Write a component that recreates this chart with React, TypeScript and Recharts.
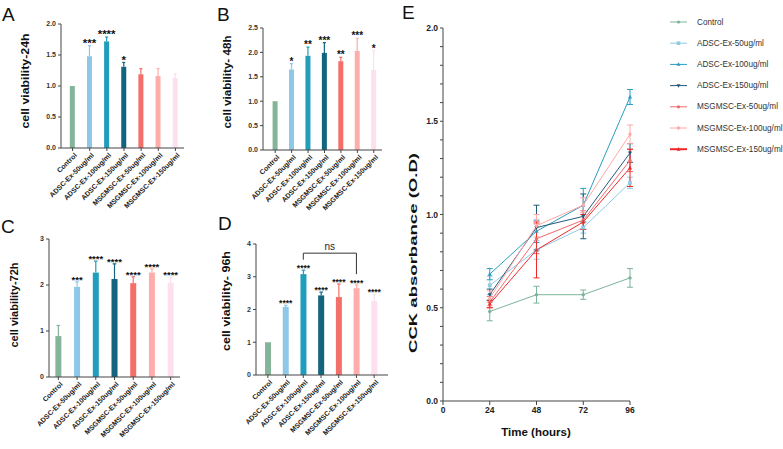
import React from 'react';
import { BarChart, Bar, XAxis, YAxis, LineChart, Line, ErrorBar, ReferenceLine } from 'recharts';

const FONT = '"Liberation Sans", Arial, sans-serif';

// ---------- data ----------
const groups = ['Control', 'ADSC-Ex-50ug/ml', 'ADSC-Ex-100ug/ml', 'ADSC-Ex-150ug/ml', 'MSGMSC-Ex-50ug/ml', 'MSGMSC-Ex-100ug/ml', 'MSGMSC-Ex-150ug/ml'];
const barColors = ['#84B59B', '#8EC8E8', '#219EBC', '#13647F', '#F46F6A', '#FFADAB', '#FCE0EE'];

const v24 = [1.0, 1.48, 1.72, 1.31, 1.19, 1.16, 1.13];
const e24 = [0, 0.17, 0.07, 0.07, 0.09, 0.12, 0.07];
const s24 = ['', '***', '****', '*', '', '', ''];

const v48 = [1.0, 1.65, 1.93, 1.99, 1.82, 2.03, 1.64];
const e48 = [0, 0.12, 0.18, 0.21, 0.08, 0.26, 0.4];
const s48 = ['', '*', '**', '***', '**', '***', '*'];

const v72 = [0.89, 1.96, 2.27, 2.13, 2.04, 2.27, 2.05];
const e72 = [0.23, 0.11, 0.25, 0.33, 0.14, 0.08, 0.12];
const s72 = ['', '***', '****', '****', '****', '****', '****'];

const v96 = [1.0, 2.08, 3.08, 2.43, 2.38, 2.65, 2.26];
const e96 = [0, 0.05, 0.12, 0.1, 0.4, 0.1, 0.2];
const s96 = ['', '****', '****', '****', '****', '****', '****'];

const times = [24, 48, 72, 96];
const seriesNames = ['Control', 'ADSC-Ex-50ug/ml', 'ADSC-Ex-100ug/ml', 'ADSC-Ex-150ug/ml', 'MSGMSC-Ex-50ug/ml', 'MSGMSC-Ex-100ug/ml', 'MSGMSC-Ex-150ug/ml'];
const lineColors = ['#7DB39A', '#8ECAE6', '#2A9CC0', '#225A7A', '#F06A6A', '#FFA8A8', '#EE2A2A'];
const ctrlOD = [0.48, 0.57, 0.57, 0.66];
const ctrlErr = [0.05, 0.045, 0.025, 0.05];
const adsc50OD = [0.62, 0.81, 0.93, 1.17];
const adsc50Err = [0.05, 0.05, 0.03, 0.03];
const adsc100OD = [0.68, 0.91, 1.05, 1.63];
const adsc100Err = [0.03, 0.06, 0.09, 0.04];
const adsc150OD = [0.57, 0.93, 0.99, 1.33];
const adsc150Err = [0.03, 0.12, 0.12, 0.05];
const msg50OD = [0.53, 0.87, 0.97, 1.29];
const msg50Err = [0.03, 0.08, 0.05, 0.06];
const msg100OD = [0.55, 0.94, 1.05, 1.43];
const msg100Err = [0.04, 0.06, 0.04, 0.05];
const msg150OD = [0.52, 0.81, 0.96, 1.25];
const msg150Err = [0.02, 0.15, 0.04, 0.1];
const odValues = [ctrlOD, adsc50OD, adsc100OD, adsc150OD, msg50OD, msg100OD, msg150OD];
const odErrors = [ctrlErr, adsc50Err, adsc100Err, adsc150Err, msg50Err, msg100Err, msg150Err];
const markers = ['circle', 'square', 'triUp', 'triDown', 'circle', 'diamond', 'triUp'];

// ---------- helpers ----------
const makeRows = (vals: number[], errs: number[], stars: string[]) =>
  groups.map((name, i) => ({ name, value: vals[i], err: errs[i], star: stars[i], color: barColors[i] }));

const BarShape = (props: any) => {
  const { x, y, width, height, payload, starSize } = props;
  const color = payload.color;
  const per = height / payload.value;
  const top = y - payload.err * per;
  const cx = x + width / 2;
  const cap = width * 0.3;
  return (
    <g>
      <rect x={x} y={y} width={width} height={height} fill={color} />
      {payload.err > 0 && (
        <g stroke={color} strokeWidth={1.2}>
          <line x1={cx} x2={cx} y1={y} y2={top} />
          <line x1={cx - cap} x2={cx + cap} y1={top} y2={top} />
        </g>
      )}
      {payload.star && (
        <text x={cx} y={top + starSize * 0.12} textAnchor="middle" fontSize={starSize} fontWeight="bold" fill="#111" fontFamily={FONT}>
          {payload.star}
        </text>
      )}
    </g>
  );
};

const CatTick = (props: any) => {
  const { x, y, payload } = props;
  return (
    <g transform={`translate(${x + 3},${y + 1}) rotate(-45)`}>
      <text x={0} y={0} dy="0.35em" textAnchor="end" fontSize={7} fontWeight="bold" fill="#222" fontFamily={FONT}>
        {payload.value}
      </text>
    </g>
  );
};

type PanelProps = {
  left: number; top: number; width: number; height: number;
  data: any[]; domain: [number, number]; ticks: number[]; decimals: number;
  mTop: number; mRight: number; yw: number; xh: number; padL: number; padR: number; starSize: number;
  children?: React.ReactNode;
};

const BarPanel = (p: PanelProps) => (
  <div style={{ position: 'absolute', left: p.left, top: p.top }}>
    <BarChart width={p.width} height={p.height} data={p.data} margin={{ top: p.mTop, right: p.mRight, bottom: 0, left: 0 }} barCategoryGap="34%">
      <XAxis dataKey="name" interval={0} tick={<CatTick />} tickSize={3} height={p.xh} padding={{ left: p.padL, right: p.padR }} stroke="#444" tickLine={{ stroke: '#444' }} />
      <YAxis width={p.yw} domain={p.domain} ticks={p.ticks} tickFormatter={(v: number) => v.toFixed(p.decimals)} tickSize={3} stroke="#444" tick={{ fontSize: 7, fill: '#333', fontFamily: FONT, fontWeight: 'bold' }} allowDataOverflow />
      <Bar dataKey="value" isAnimationActive={false} shape={(sp: any) => <BarShape {...sp} starSize={p.starSize} />} />
      {p.children}
    </BarChart>
  </div>
);

const MarkerShape = ({ kind, cx, cy, color, s = 1.9 }: any) => {
  if (cx == null || cy == null) return null;
  if (kind === 'square') return <rect x={cx - s} y={cy - s} width={2 * s} height={2 * s} fill={color} />;
  if (kind === 'triUp') return <polygon points={`${cx},${cy - s * 1.2} ${cx - s * 1.1},${cy + s * 0.8} ${cx + s * 1.1},${cy + s * 0.8}`} fill={color} />;
  if (kind === 'triDown') return <polygon points={`${cx},${cy + s * 1.2} ${cx - s * 1.1},${cy - s * 0.8} ${cx + s * 1.1},${cy - s * 0.8}`} fill={color} />;
  if (kind === 'diamond') return <polygon points={`${cx},${cy - s * 1.3} ${cx + s},${cy} ${cx},${cy + s * 1.3} ${cx - s},${cy}`} fill={color} />;
  return <circle cx={cx} cy={cy} r={s * 0.9} fill={color} />;
};

const lineData = times.map((t, i) => {
  const row: any = { t };
  odValues.forEach((vals, k) => {
    row['s' + k] = vals[i];
    row['e' + k] = odErrors[k][i];
  });
  return row;
});

const yLabel = (text: string, x: number, y: number, len: number, size: number) => (
  <text x={x} y={y} transform={`rotate(-90, ${x}, ${y})`} textAnchor="middle" dominantBaseline="central" fontSize={size} fontWeight="bold" fill="#111" fontFamily={FONT} textLength={len} lengthAdjust="spacingAndGlyphs">
    {text}
  </text>
);

export default function App() {
  const dA = makeRows(v24, e24, s24);
  const dB = makeRows(v48, e48, s48);
  const dC = makeRows(v72, e72, s72);
  const dD = makeRows(v96, e96, s96);
  const odTicks = Array.from({ length: 21 }, (_, i) => Math.round(i) / 10);

  return (
    <div style={{ position: 'absolute', left: 0, top: 0, width: 783, height: 449, background: '#fff', fontFamily: FONT }}>
      <BarPanel left={0} top={0} width={200} height={215} data={dA} domain={[0, 2]} ticks={[0, 0.5, 1, 1.5, 2]} decimals={1}
        mTop={24} mRight={16} yw={61} xh={67} padL={3} padR={0} starSize={11.5} />
      <BarPanel left={195} top={0} width={200} height={215} data={dB} domain={[0, 2.5]} ticks={[0, 0.5, 1, 1.5, 2, 2.5]} decimals={1}
        mTop={28} mRight={13} yw={68} xh={65} padL={4} padR={0} starSize={10} />
      <BarPanel left={0} top={215} width={200} height={234} data={dC} domain={[0, 3]} ticks={[0, 1, 2, 3]} decimals={0}
        mTop={24} mRight={20} yw={49} xh={72} padL={0} padR={0} starSize={9.5} />
      <BarPanel left={195} top={215} width={200} height={234} data={dD} domain={[0, 4]} ticks={[0, 1, 2, 3, 4]} decimals={0}
        mTop={29} mRight={7} yw={61} xh={74} padL={3} padR={5} starSize={8.5}>
        <ReferenceLine segment={[{ x: groups[2], y: 3.72 }, { x: groups[5], y: 3.72 }]} stroke="#333" strokeWidth={1}
          label={{ value: 'ns', position: 'top', fontSize: 10, fill: '#222', fontFamily: FONT, offset: 3 }} />
        <ReferenceLine segment={[{ x: groups[2], y: 3.72 }, { x: groups[2], y: 3.52 }]} stroke="#333" strokeWidth={1} />
        <ReferenceLine segment={[{ x: groups[5], y: 3.72 }, { x: groups[5], y: 3.08 }]} stroke="#333" strokeWidth={1} />
      </BarPanel>

      <div style={{ position: 'absolute', left: 400, top: 0 }}>
        <LineChart width={383} height={449} data={lineData} margin={{ top: 28, right: 153, bottom: 0, left: 0 }}>
          <XAxis dataKey="t" type="number" domain={[0, 96]} ticks={[0, 24, 48, 72, 96]} tickSize={4} height={48} stroke="#444"
            tick={{ fontSize: 8.5, fill: '#222', fontWeight: 'bold', fontFamily: FONT }} />
          <YAxis width={43} domain={[0, 2]} ticks={odTicks} tickSize={3} stroke="#444" interval={0}
            tickFormatter={(v: number) => (Math.abs(v * 2 - Math.round(v * 2)) < 1e-6 ? v.toFixed(1) : '')}
            tick={{ fontSize: 8.5, fill: '#222', fontWeight: 'bold', fontFamily: FONT }} />
          {seriesNames.map((name, k) => (
            <Line key={name} dataKey={'s' + k} name={name} stroke={lineColors[k]} strokeWidth={1} isAnimationActive={false}
              dot={(dp: any) => <MarkerShape key={k + '-' + dp.index} kind={markers[k]} cx={dp.cx} cy={dp.cy} color={lineColors[k]} />}
              activeDot={false}>
              <ErrorBar dataKey={'e' + k} width={3} stroke={lineColors[k]} strokeWidth={1} direction="y" />
            </Line>
          ))}
        </LineChart>
      </div>

      <svg width={783} height={449} style={{ position: 'absolute', left: 0, top: 0, pointerEvents: 'none' }}>
        <g fontFamily={FONT} fill="#111">
          <text x={2} y={21} fontSize={19}>A</text>
          <text x={217} y={21} fontSize={19}>B</text>
          <text x={1} y={233} fontSize={19}>C</text>
          <text x={218} y={230} fontSize={19}>D</text>
          <text x={402} y={19} fontSize={19}>E</text>
        </g>
        {yLabel('cell viability-24h', 25, 81, 95, 11)}
        {yLabel('cell viability- 48h', 227, 82, 93, 11)}
        {yLabel('cell viability-72h', 14, 305, 85, 11)}
        {yLabel('cell viability- 96h', 226, 301, 100, 11)}
        {yLabel('CCK absorbance (O.D)', 413, 253, 200, 11.5)}
        <text x={536} y={436} textAnchor="middle" fontSize={11.5} fontWeight="bold" fill="#111" fontFamily={FONT}>Time (hours)</text>
        <g fontFamily={FONT}>
          {seriesNames.map((name, k) => {
            const cy = 22 + k * 21.2;
            return (
              <g key={name}>
                <line x1={670} x2={687} y1={cy} y2={cy} stroke={lineColors[k]} strokeWidth={k === 6 ? 2 : 1} />
                <MarkerShape kind={markers[k]} cx={678.5} cy={cy} color={lineColors[k]} s={1.8} />
                <text x={697} y={cy} dominantBaseline="central" fontSize={8.2} fill="#333">{name}</text>
              </g>
            );
          })}
        </g>
      </svg>
    </div>
  );
}
